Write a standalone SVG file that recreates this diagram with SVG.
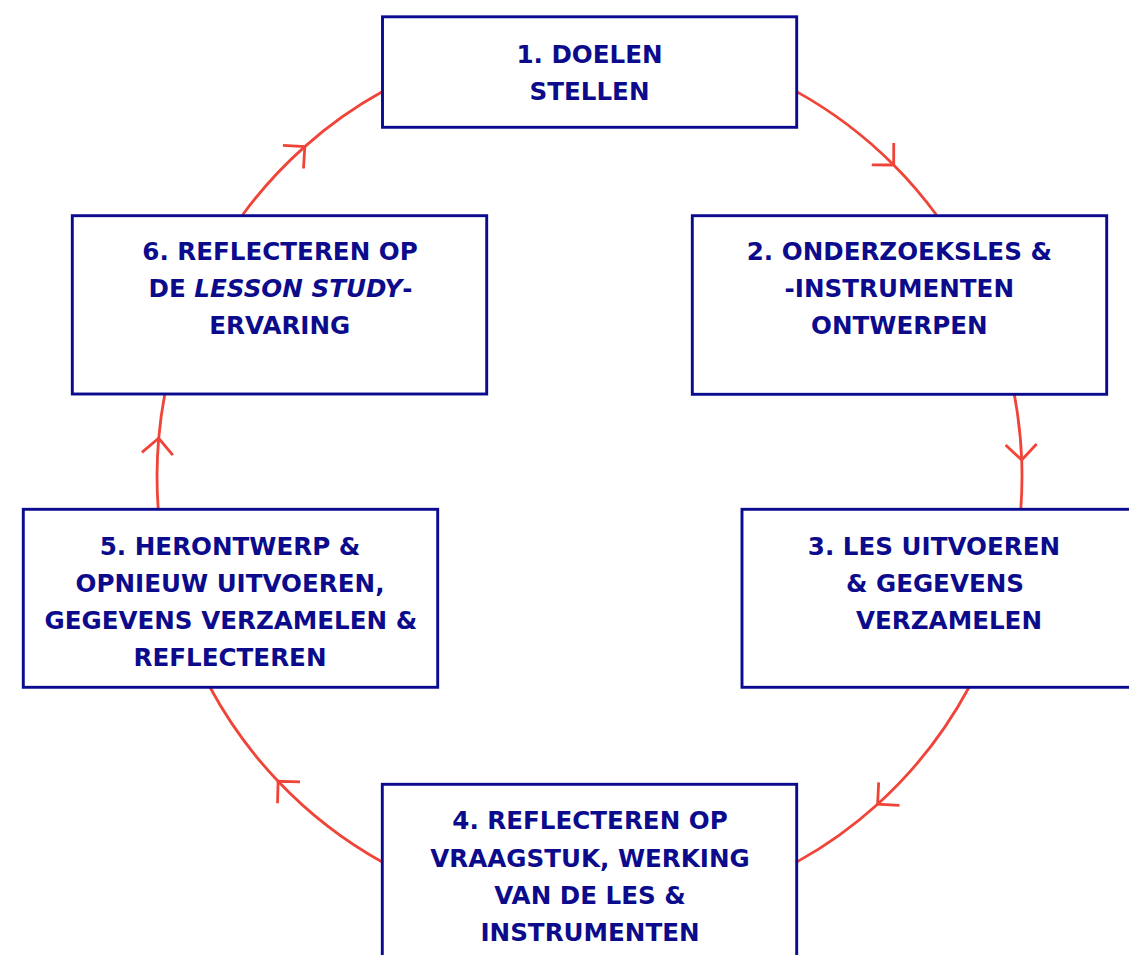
<svg xmlns="http://www.w3.org/2000/svg" width="1129" height="955" viewBox="0 0 1129 955">
  <style>
    .box { fill: #ffffff; stroke: #0b0b90; stroke-width: 2.9; }
    .lbl { font-family: "DejaVu Sans", "Liberation Sans", sans-serif; font-weight: bold; font-size: 24.6px; fill: #0b0b8c; text-anchor: middle; }
    .it { font-style: italic; }
    .arc { fill: none; stroke: #f04438; stroke-width: 2.8; marker-mid: url(#chev); }
  </style>
  <defs>
    <marker id="chev" markerUnits="userSpaceOnUse" viewBox="-20 -20 24 40" refX="0" refY="0" markerWidth="24" markerHeight="40" orient="auto" overflow="visible">
      <path d="M-15.5,-15.5 L0,0 L-15.5,15.5" fill="none" stroke="#f04438" stroke-width="2.8"/>
    </marker>
  </defs>

  <!-- cycle connectors: elliptical arcs, clockwise, arrowhead at the middle vertex -->
  <g id="connectors">
    <path class="arc" d="M797,91.9 A432.5,438.8 0 0 1 893.7,165 A432.5,438.8 0 0 1 936.5,215"/>
    <path class="arc" d="M1014.2,394 A432.5,438.8 0 0 1 1021.7,460 A432.5,438.8 0 0 1 1020.8,509"/>
    <path class="arc" d="M968.9,687.5 A432.5,438.8 0 0 1 877.6,804.2 A432.5,438.8 0 0 1 797,861.9"/>
    <path class="arc" d="M383,862.5 A432.5,438.8 0 0 1 278.1,781.3 A432.5,438.8 0 0 1 210.1,687.5"/>
    <path class="arc" d="M158.2,509 A432.5,438.8 0 0 1 158.7,438.3 A432.5,438.8 0 0 1 164.8,394"/>
    <path class="arc" d="M242.5,215 A432.5,438.8 0 0 1 304.8,146.6 A432.5,438.8 0 0 1 383,91.3"/>
  </g>

  <g id="step1">
    <rect class="box" x="382.5" y="16.8" width="414.2" height="110.5"/>
    <text class="lbl" x="589.5" y="63">1. DOELEN</text>
    <text class="lbl" x="589.5" y="100">STELLEN</text>
  </g>

  <g id="step2">
    <rect class="box" x="692.3" y="215.7" width="414.4" height="178.6"/>
    <text class="lbl" x="899.3" y="260">2. ONDERZOEKSLES &amp;</text>
    <text class="lbl" x="899.3" y="297.3">-INSTRUMENTEN</text>
    <text class="lbl" x="899.3" y="334.3">ONTWERPEN</text>
  </g>

  <g id="step3">
    <rect class="box" x="742" y="509.3" width="414.4" height="178"/>
    <text class="lbl" x="934" y="555">3. LES UITVOEREN</text>
    <text class="lbl" x="935" y="592.3">&amp; GEGEVENS</text>
    <text class="lbl" x="949" y="629">VERZAMELEN</text>
  </g>

  <g id="step4">
    <rect class="box" x="382.3" y="784.3" width="414.4" height="178"/>
    <text class="lbl" x="590" y="829.3">4. REFLECTEREN OP</text>
    <text class="lbl" x="590" y="866.7">VRAAGSTUK, WERKING</text>
    <text class="lbl" x="590" y="904">VAN DE LES &amp;</text>
    <text class="lbl" x="590" y="941">INSTRUMENTEN</text>
  </g>

  <g id="step5">
    <rect class="box" x="23.3" y="509.3" width="414.4" height="178"/>
    <text class="lbl" x="230" y="555">5. HERONTWERP &amp;</text>
    <text class="lbl" x="230" y="592.3">OPNIEUW UITVOEREN,</text>
    <text class="lbl" x="230.8" y="628.5">GEGEVENS VERZAMELEN &amp;</text>
    <text class="lbl" x="230" y="665.7">REFLECTEREN</text>
  </g>

  <g id="step6">
    <rect class="box" x="72.3" y="215.7" width="414.4" height="178.3"/>
    <text class="lbl" x="280" y="260">6. REFLECTEREN OP</text>
    <text class="lbl" x="280.5" y="297.3">DE <tspan class="it">LESSON STUDY</tspan>-</text>
    <text class="lbl" x="279.8" y="334.3">ERVARING</text>
  </g>
</svg>
